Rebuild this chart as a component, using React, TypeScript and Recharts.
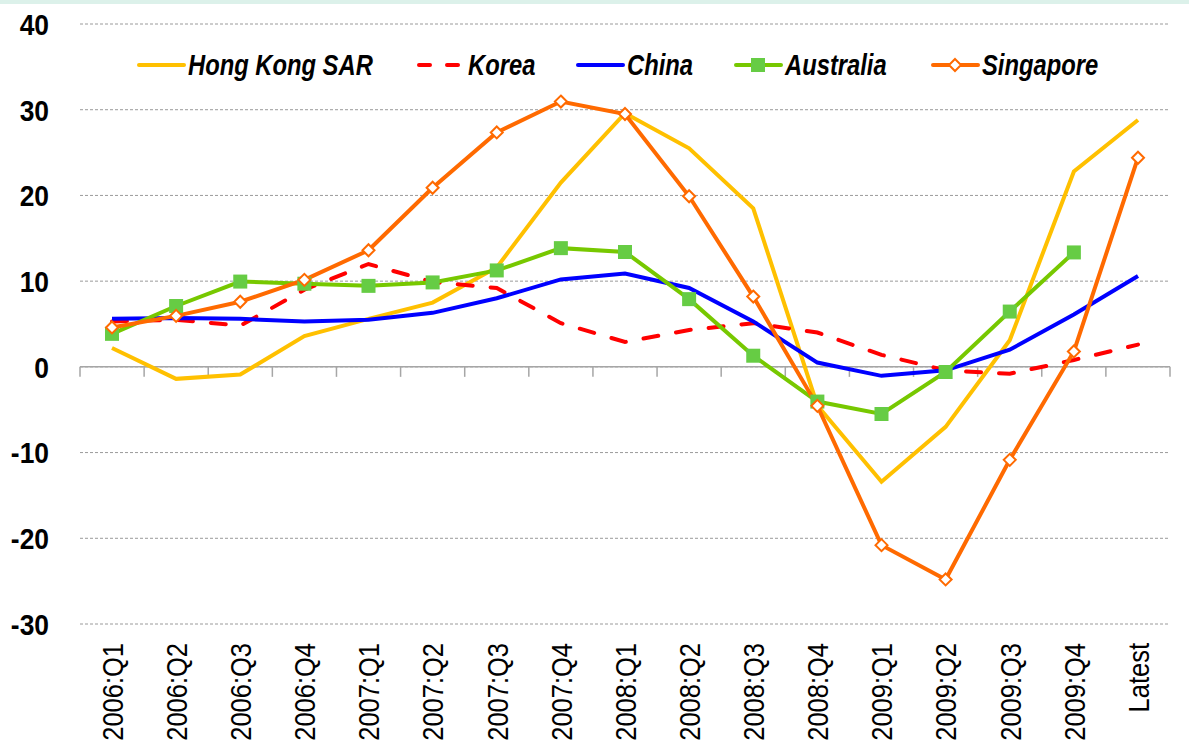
import React from "react";
import {
  LineChart,
  Line,
  XAxis,
  YAxis,
  CartesianGrid,
  ReferenceLine,
} from "recharts";

const quarters = [
  "2006:Q1", "2006:Q2", "2006:Q3", "2006:Q4",
  "2007:Q1", "2007:Q2", "2007:Q3", "2007:Q4",
  "2008:Q1", "2008:Q2", "2008:Q3", "2008:Q4",
  "2009:Q1", "2009:Q2", "2009:Q3", "2009:Q4",
  "Latest",
];

const hongKong = [2.2, -1.4, -0.9, 3.6, 5.6, 7.5, 11.6, 21.5, 29.6, 25.5, 18.5, -4.5, -13.4, -7.0, 3.1, 22.8, 28.8];
const korea = [5.3, 5.5, 4.8, 9.0, 12.0, 9.9, 9.2, 5.1, 2.9, 4.3, 5.1, 4.0, 1.4, -0.4, -0.8, 0.8, 2.6];
const china = [5.6, 5.7, 5.6, 5.3, 5.5, 6.3, 8.0, 10.2, 10.9, 9.2, 5.3, 0.5, -1.05, -0.4, 2.0, 6.1, 10.6];
const australia = [3.85, 7.1, 9.95, 9.7, 9.45, 9.85, 11.25, 13.85, 13.4, 7.9, 1.3, -4.05, -5.5, -0.6, 6.45, 13.35, null];
const singapore = [4.6, 5.95, 7.6, 10.15, 13.6, 20.9, 27.35, 30.95, 29.5, 19.9, 8.2, -4.55, -20.8, -24.8, -10.85, 1.8, 24.4];

const yTicks = [-30, -20, -10, 0, 10, 20, 30, 40];

const data = quarters.map((q, i) => ({
  q,
  hk: hongKong[i],
  korea: korea[i],
  china: china[i],
  australia: australia[i],
  singapore: singapore[i],
}));

// no narrow font installed, so Liberation Sans gets squeezed horizontally
const FONT = '"Liberation Sans", Arial, sans-serif';

const series = [
  { key: "hk", name: "Hong Kong SAR", color: "#FFC000", dash: undefined, marker: "none", lx: 137 },
  { key: "korea", name: "Korea", color: "#FF0000", dash: "15 18", marker: "none", lx: 417 },
  { key: "china", name: "China", color: "#0000FF", dash: undefined, marker: "none", lx: 576 },
  { key: "australia", name: "Australia", color: "#77C800", dash: undefined, marker: "square", lx: 734 },
  { key: "singapore", name: "Singapore", color: "#FF6A00", dash: undefined, marker: "diamond", lx: 931 },
];

const SquareDot = (props: any) => {
  const { cx, cy, index } = props;
  if (cx == null || cy == null) return <g key={`sq-${index}`} />;
  return <rect key={`sq-${index}`} x={cx - 7} y={cy - 7} width={14} height={14} fill="#66CC44" />;
};

const DiamondDot = (props: any) => {
  const { cx, cy, index } = props;
  if (cx == null || cy == null) return <g key={`dm-${index}`} />;
  return (
    <path
      key={`dm-${index}`}
      d={`M${cx},${cy - 6} L${cx + 6},${cy} L${cx},${cy + 6} L${cx - 6},${cy} Z`}
      fill="#fff"
      stroke="#FF6A00"
      strokeWidth={2}
    />
  );
};

const XTick = (props: any) => {
  const { x, y, payload } = props;
  return (
    <g transform={`translate(${x},${y}) rotate(-90) scale(0.85,1)`}>
      <text textAnchor="end" dy="0.36em" fontFamily={FONT} fontSize={30} fill="#000">
        {payload.value}
      </text>
    </g>
  );
};

const YTick = (props: any) => {
  const { x, y, payload } = props;
  return (
    <g transform={`translate(${x},${y}) scale(0.88,1)`}>
      <text dy="0.36em" textAnchor="end" fontFamily={FONT} fontWeight="bold" fontSize={30} fill="#000">
        {payload.value}
      </text>
    </g>
  );
};

// zero axis with the category tick marks hanging below it
const ZeroAxis = (props: any) => {
  const { x1, y1, x2 } = props;
  if (x1 == null) return <g />;
  const n = quarters.length;
  const step = (x2 - x1) / n;
  const marks = [];
  for (let k = 0; k <= n; k++) {
    const x = x1 + k * step;
    marks.push(<line key={k} x1={x} y1={y1} x2={x} y2={y1 + 10} stroke="#A6A6A6" strokeWidth={1.5} />);
  }
  return (
    <g>
      <line x1={x1} y1={y1} x2={x2} y2={y1} stroke="#A6A6A6" strokeWidth={1.5} />
      {marks}
    </g>
  );
};

const LegendItem = ({ s }: { s: (typeof series)[number] }) => (
  <g transform={`translate(${s.lx},0)`}>
    <line
      x1={2}
      y1={65}
      x2={47}
      y2={65}
      stroke={s.color}
      strokeWidth={4}
      strokeLinecap="round"
      strokeDasharray={s.dash ? "11 17" : undefined}
    />
    {s.marker === "square" && <rect x={17} y={58} width={14} height={14} fill="#66CC44" />}
    {s.marker === "diamond" && (
      <path d="M24,59 L30,65 L24,71 L18,65 Z" fill="#fff" stroke={s.color} strokeWidth={2} />
    )}
    <g transform="translate(51,65) scale(0.82,1)">
      <text
        dy="0.36em"
        fontFamily={FONT}
        fontWeight="bold"
        fontStyle="italic"
        fontSize={29}
        fill="#000"
      >
        {s.name}
      </text>
    </g>
  </g>
);

export default function App() {
  return (
    <div
      style={{
        position: "fixed",
        left: 0,
        top: 0,
        width: 1189,
        height: 747,
        background: "#fff",
        overflow: "hidden",
      }}
    >
      <div style={{ position: "absolute", left: 0, top: 0, width: 1189, height: 4, background: "#DCF1EA" }} />
      <LineChart
        width={1189}
        height={747}
        data={data}
        margin={{ top: 24, right: 19, left: 0, bottom: 13 }}
      >
        <CartesianGrid vertical={false} stroke="#9A9A9A" strokeDasharray="3 2" strokeWidth={1} />
        <XAxis
          dataKey="q"
          interval={0}
          height={110}
          axisLine={false}
          tickLine={false}
          tickSize={6}
          tickMargin={13}
          padding={{ left: 32, right: 32 }}
          tick={<XTick />}
        />
        <YAxis
          domain={[-30, 40]}
          ticks={yTicks}
          width={80}
          axisLine={false}
          tickLine={false}
          tickSize={6}
          tickMargin={25}
          interval={0}
          tick={<YTick />}
        />
        <ReferenceLine y={0} shape={(p: any) => <ZeroAxis {...p} />} />
        {series.map((s) => (
          <Line
            key={s.key}
            dataKey={s.key}
            name={s.name}
            type="linear"
            stroke={s.color}
            strokeWidth={4}
            strokeDasharray={s.dash}
            strokeLinecap={s.dash ? "round" : "butt"}
            dot={s.marker === "square" ? SquareDot : s.marker === "diamond" ? DiamondDot : false}
            activeDot={false}
            connectNulls={false}
            isAnimationActive={false}
          />
        ))}
      </LineChart>
      <svg width={1189} height={100} style={{ position: "absolute", left: 0, top: 0 }}>
        {series.map((s) => (
          <LegendItem key={s.key} s={s} />
        ))}
      </svg>
    </div>
  );
}
